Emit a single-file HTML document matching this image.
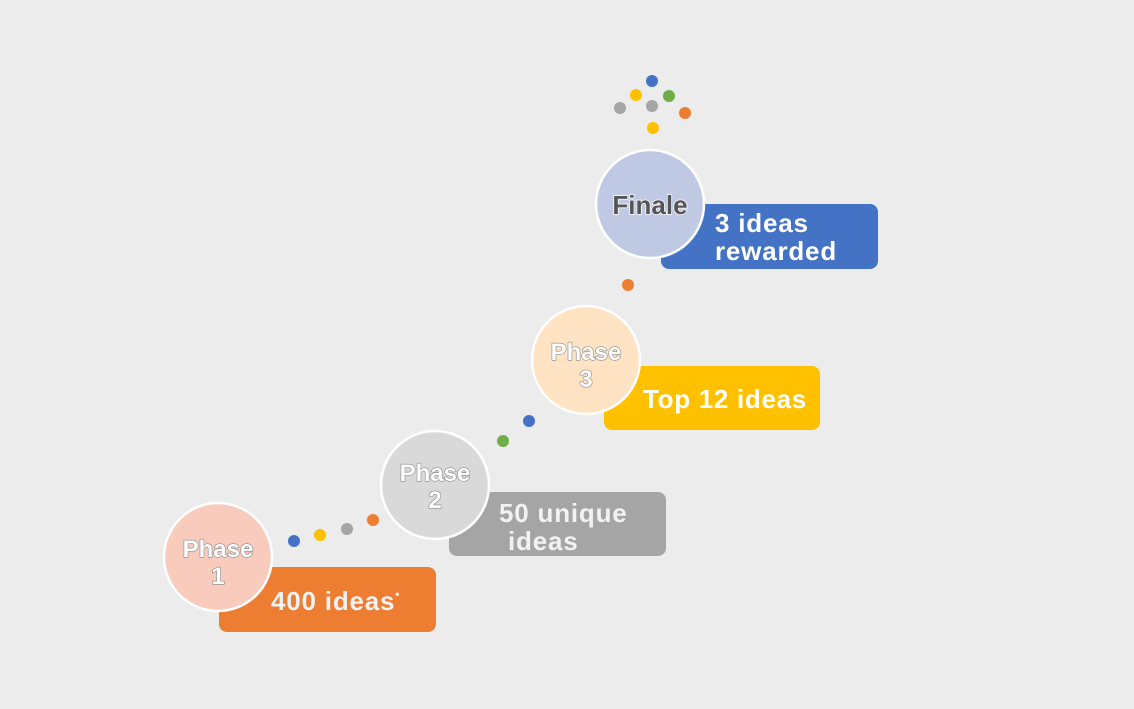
<!DOCTYPE html>
<html><head><meta charset="utf-8"><style>
body{margin:0;width:1134px;height:709px;background:#ECECEC;overflow:hidden;font-family:"Liberation Sans",sans-serif}
svg{position:absolute;left:0;top:0}
</style></head><body>
<svg width="1134" height="709" viewBox="0 0 1134 709">
<g font-family="Liberation Sans, sans-serif" font-weight="bold">
<rect x="219" y="567" width="217" height="65" rx="8" fill="#ED7D31"/>
<g letter-spacing="0.8">
<text x="271" y="610" font-size="26" fill="#F2F2F2">400 ideas<tspan font-size="12" dy="-12">•</tspan></text>
</g>
<rect x="449" y="492" width="217" height="64" rx="8" fill="#A5A5A5"/>
<g letter-spacing="0.8">
<text x="499" y="522" font-size="26" fill="#F2F2F2">50 unique</text>
<text x="508" y="550" font-size="26" fill="#F2F2F2">ideas</text>
</g>
<rect x="604" y="366" width="216" height="64" rx="8" fill="#FFC000"/>
<text x="643" y="408" font-size="26" fill="#FFFFFF" letter-spacing="0.7">Top 12 ideas</text>
<rect x="661" y="204" width="217" height="65" rx="8" fill="#4472C4"/>
<g letter-spacing="0.8">
<text x="715" y="232" font-size="26" fill="#FFFFFF">3 ideas</text>
<text x="715" y="260" font-size="26" fill="#FFFFFF">rewarded</text>
</g>

<circle cx="218" cy="557" r="54" fill="#F8CBBD" stroke="#fff" stroke-width="2.5"/>
<circle cx="435" cy="485" r="54" fill="#D9D9D9" stroke="#fff" stroke-width="2.5"/>
<circle cx="586" cy="360" r="54" fill="#FFE3C2" stroke="#fff" stroke-width="2.5"/>
<circle cx="650" cy="204" r="54" fill="#BFC9E4" stroke="#fff" stroke-width="2.5"/>

<g font-size="24" text-anchor="middle" fill="#fff" stroke="#888" stroke-width="1.2" paint-order="stroke">
<text x="218" y="557">Phase</text><text x="218" y="584">1</text>
<text x="435" y="481">Phase</text><text x="435" y="508">2</text>
<text x="586" y="360">Phase</text><text x="586" y="387">3</text>
</g>
<text x="650" y="214" font-size="26" text-anchor="middle" fill="#555" stroke="#fff" stroke-width="1.5" paint-order="stroke">Finale</text>

<circle cx="294" cy="541" r="6" fill="#4472C4"/>
<circle cx="320" cy="535" r="6" fill="#FFC000"/>
<circle cx="347" cy="529" r="6" fill="#A5A5A5"/>
<circle cx="373" cy="520" r="6" fill="#ED7D31"/>
<circle cx="503" cy="441" r="6" fill="#70AD47"/>
<circle cx="529" cy="421" r="6" fill="#4472C4"/>
<circle cx="628" cy="285" r="6" fill="#ED7D31"/>
<circle cx="652" cy="81" r="6" fill="#4472C4"/>
<circle cx="636" cy="95" r="6" fill="#FFC000"/>
<circle cx="669" cy="96" r="6" fill="#70AD47"/>
<circle cx="620" cy="108" r="6" fill="#A5A5A5"/>
<circle cx="652" cy="106" r="6" fill="#A5A5A5"/>
<circle cx="685" cy="113" r="6" fill="#ED7D31"/>
<circle cx="653" cy="128" r="6" fill="#FFC000"/>
</g>
</svg>
</body></html>
